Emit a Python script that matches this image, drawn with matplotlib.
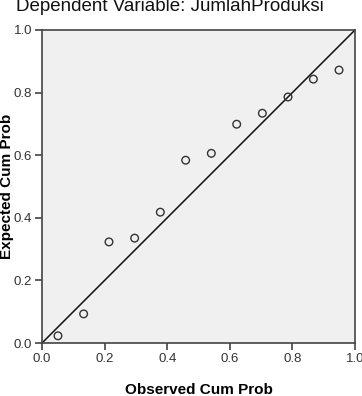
import numpy as np
import matplotlib.pyplot as plt

# Normal P-P plot of regression standardized residuals
observed = [0.051, 0.133, 0.214, 0.296, 0.378, 0.459, 0.541, 0.622, 0.704, 0.786, 0.867, 0.949]
expected = [0.023, 0.093, 0.323, 0.335, 0.418, 0.584, 0.606, 0.699, 0.734, 0.786, 0.843, 0.872]
ticks = [0.0, 0.2, 0.4, 0.6, 0.8, 1.0]

plt.rcParams['font.family'] = ['Liberation Sans', 'DejaVu Sans']

fig = plt.figure(figsize=(3.62, 3.96), dpi=100)
ax = fig.add_axes([42/362, 53/396, 313/362, 313/396])
ax.set_facecolor('#f0f0f0')

ax.plot([0, 1], [0, 1], color='#111111', linewidth=1.1, zorder=2)
ax.scatter(observed, expected, s=30, facecolors='none', edgecolors='#333333',
           linewidths=1.0, zorder=3)

ax.set_xlim(0, 1)
ax.set_ylim(0, 1)
ax.set_xticks(ticks)
ax.set_yticks(ticks)
ax.set_xticklabels(['%.1f' % t for t in ticks])
ax.set_yticklabels(['%.1f' % t for t in ticks])
ax.tick_params(direction='out', length=5, width=1.2, colors='#444444',
               labelsize=9.5, labelcolor='#333333', pad=2)
for s in ax.spines.values():
    s.set_color('#444444')
    s.set_linewidth(1.2)

ax.set_xlabel('Observed Cum Prob', fontsize=11, fontweight='bold')
ax.xaxis.set_label_coords(0.5, -(383 - 343) / 313)
ax.set_ylabel('Expected Cum Prob', fontsize=11, fontweight='bold', va='center')
ax.yaxis.set_label_coords(-(42 - 7) / 313, 0.5)

fig.text(0.47, 1 - 11/396, 'Dependent Variable: JumlahProduksi', ha='center',
         va='baseline', fontsize=13.5, color='#111111')

fig.savefig('out.png', dpi=100)
